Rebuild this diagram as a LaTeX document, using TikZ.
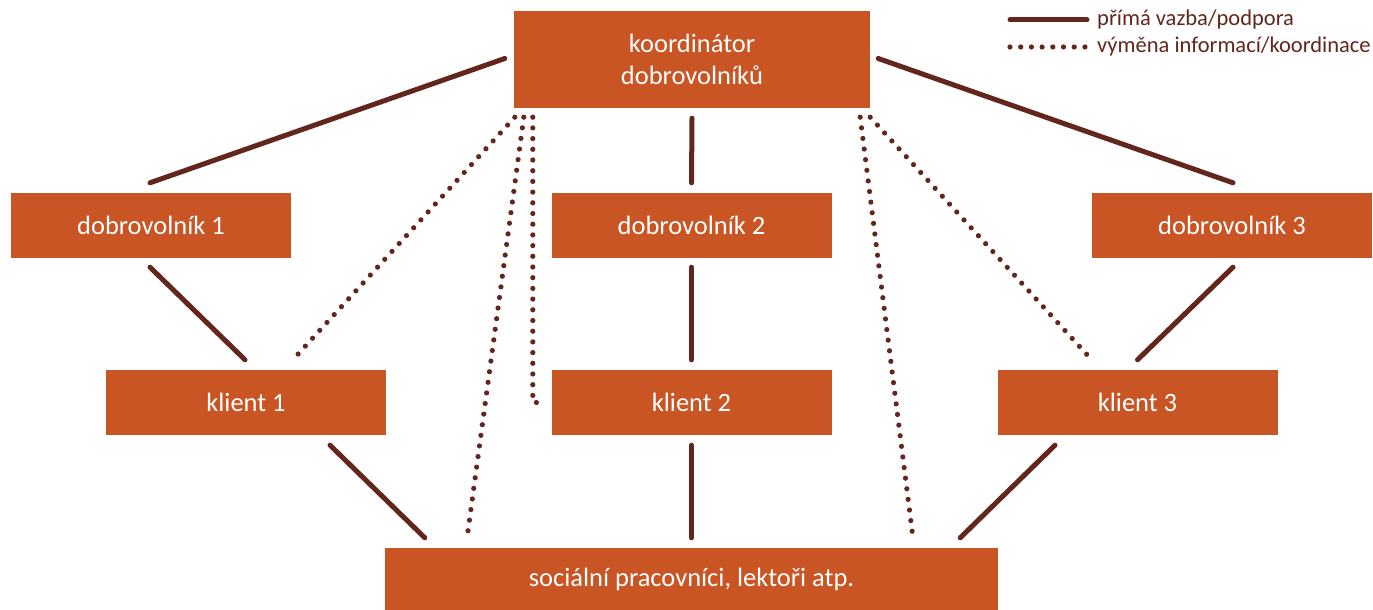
\documentclass[tikz,border=0pt]{standalone}
\usepackage{fontspec}
\setmainfont{Carlito}
\usetikzlibrary{calc}
\definecolor{boxfill}{HTML}{C95424}
\definecolor{linec}{HTML}{63261C}
\tikzset{
  box/.style={rectangle, fill=boxfill, text=white, inner sep=0pt, minimum width=280pt, minimum height=65pt, font=\fontsize{26.5}{32}\selectfont, align=center},
  solidline/.style={draw=linec, line width=5pt, line cap=round},
  dotline/.style={draw=linec, line width=5.2pt, line cap=round, dash pattern=on 0pt off 10.7pt},
  legtext/.style={text=linec, font=\fontsize{22.5}{26}\selectfont, anchor=west, inner sep=0pt}
}
\begin{document}
\begin{tikzpicture}[x=1pt,y=-1pt]
\useasboundingbox (0,0) rectangle (1373,610);
% boxes
\node[box, minimum width=356pt, minimum height=97pt] (coord) at (692,59.5) {koordinátor\\dobrovolníků};
\node[box] (d1) at (151,225.5) {dobrovolník 1};
\node[box] (d2) at (691.5,225.5) {dobrovolník 2};
\node[box] (d3) at (1232,225.5) {dobrovolník 3};
\node[box] (k1) at (246,402.5) {klient 1};
\node[box] (k2) at (691.5,402.5) {klient 2};
\node[box] (k3) at (1137.5,402.5) {klient 3};
\node[box, minimum width=613pt, minimum height=62pt] (soc) at (691.5,579) {sociální pracovníci, lektoři atp.};
% solid connectors
\draw[solidline] ($(coord.west)+(-9,-1)$) -- ($(d1.north)+(-1,-10)$);
\draw[solidline] ($(coord.south)+(0,10)$) -- ($(d2.north)+(0,-10)$);
\draw[solidline] ($(coord.east)+(8,-1)$) -- ($(d3.north)+(1,-10)$);
\draw[solidline] ($(d1.south)+(-1,9)$) -- ($(k1.north)+(-1,-10)$);
\draw[solidline] ($(d2.south)+(0,9)$) -- ($(k2.north)+(0,-10)$);
\draw[solidline] ($(d3.south)+(1,9)$) -- ($(k3.north)+(0,-10)$);
\draw[solidline] ($(k1.south)+(84,10)$) -- ($(soc.north west)+(40,-10)$);
\draw[solidline] ($(k2.south)+(0,10)$) -- ($(soc.north)+(0,-10)$);
\draw[solidline] ($(k3.south)+(-82.5,10)$) -- ($(soc.north east)+(-38,-10)$);
% dotted connectors
\draw[dotline] ($(coord.south west)+(1,9)$) -- ($(k1.north)+(45,-8)$);
\draw[dotline] ($(coord.south west)+(10,9)$) -- ($(soc.north west)+(82,-8)$);
\draw[dotline] ($(coord.south west)+(19,9)$) |- ($(k2.west)+(-9,0)$);
\draw[dotline] ($(coord.south east)+(-10,9)$) -- ($(soc.north east)+(-85,-8)$);
\draw[dotline] ($(coord.south east)+(0,9)$) -- ($(k3.north)+(-44,-8)$);
% legend
\coordinate (la1) at (1010,20);
\coordinate (lb1) at (1087,20);
\coordinate (la2) at (1010,47);
\coordinate (lb2) at (1087,47);
\draw[solidline] (la1) -- (lb1);
\draw[dotline] (la2) -- (lb2);
\node[legtext] (lt1) at (1097,20) {přímá vazba/podpora};
\node[legtext] (lt2) at (1097,47) {výměna informací/koordinace};
\end{tikzpicture}
\end{document}
